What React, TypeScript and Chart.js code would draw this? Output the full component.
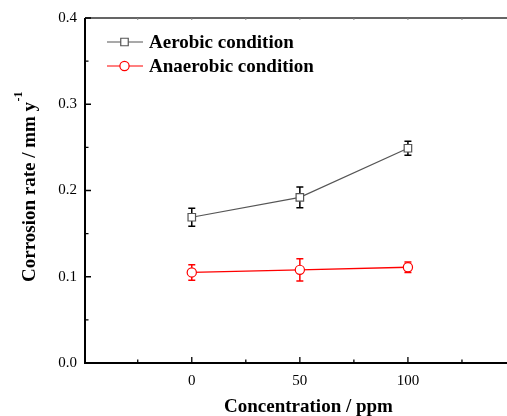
import React, { useEffect, useRef } from "react";
import { Chart, registerables } from "chart.js";
Chart.register(...registerables);

const concentrations = [0, 50, 100];
const aerobicRate = [0.169, 0.192, 0.249];
const aerobicError = [0.0105, 0.012, 0.008];
const anaerobicRate = [0.105, 0.108, 0.111];
const anaerobicError = [0.009, 0.013, 0.006];
const xTickLabels = [0, 50, 100];
const yTickValues = [0, 0.1, 0.2, 0.3, 0.4];
const seriesNames = ["Aerobic condition", "Anaerobic condition"];
const xTitle = "Concentration / ppm";
const yTitleMain = "Corrosion rate / mm y";
const yTitleSup = "-1";

const SERIF = '"Liberation Serif", "Times New Roman", serif';
const GREY = "#555555";
const RED = "#ff0000";

const seriesStyle = [
  { line: GREY, marker: GREY, err: "#000000", shape: "rect" },
  { line: RED, marker: RED, err: RED, shape: "circle" },
];

function drawMarker(ctx: CanvasRenderingContext2D, shape: string, x: number, y: number, color: string) {
  ctx.save();
  ctx.fillStyle = "#ffffff";
  ctx.strokeStyle = color;
  ctx.lineWidth = 1.2;
  ctx.beginPath();
  if (shape === "rect") {
    ctx.rect(x - 3.75, y - 3.75, 7.5, 7.5);
  } else {
    ctx.arc(x, y, 4.6, 0, Math.PI * 2);
  }
  ctx.fill();
  ctx.stroke();
  ctx.restore();
}

const decor = {
  id: "decor",
  beforeDatasetsDraw(chart: any) {
    const ctx = chart.ctx as CanvasRenderingContext2D;
    const xs = chart.scales.x;
    const ys = chart.scales.y;
    chart.data.datasets.forEach((ds: any, i: number) => {
      const errs: number[] = ds.errors;
      ctx.save();
      ctx.strokeStyle = seriesStyle[i].err;
      ctx.lineWidth = 1.5;
      ds.data.forEach((p: any, j: number) => {
        const x = xs.getPixelForValue(p.x);
        const yt = ys.getPixelForValue(p.y + errs[j]);
        const yb = ys.getPixelForValue(p.y - errs[j]);
        ctx.beginPath();
        ctx.moveTo(x, yt);
        ctx.lineTo(x, yb);
        ctx.moveTo(x - 3.5, yt);
        ctx.lineTo(x + 3.5, yt);
        ctx.moveTo(x - 3.5, yb);
        ctx.lineTo(x + 3.5, yb);
        ctx.stroke();
      });
      ctx.restore();
    });
  },
  afterDraw(chart: any) {
    const ctx = chart.ctx as CanvasRenderingContext2D;
    const a = chart.chartArea;
    const xs = chart.scales.x;
    const ys = chart.scales.y;
    ctx.save();
    // frame
    ctx.strokeStyle = "#000";
    ctx.lineWidth = 2;
    ctx.beginPath();
    ctx.moveTo(a.left, a.top);
    ctx.lineTo(a.left, a.bottom);
    ctx.lineTo(a.right, a.bottom);
    ctx.stroke();
    ctx.strokeStyle = "#333";
    ctx.lineWidth = 1.5;
    ctx.beginPath();
    ctx.moveTo(a.left, a.top);
    ctx.lineTo(a.right, a.top);
    ctx.lineTo(a.right, a.bottom);
    ctx.stroke();
    // ticks
    ctx.strokeStyle = "#000";
    ctx.lineWidth = 1.3;
    ctx.beginPath();
    for (let k = 0; k <= 8; k++) {
      const v = k * 0.05;
      const y = ys.getPixelForValue(v);
      const len = k % 2 === 0 ? 6 : 3.5;
      ctx.moveTo(a.left, y);
      ctx.lineTo(a.left + len, y);
      ctx.moveTo(a.right, y);
      ctx.lineTo(a.right - len, y);
    }
    for (let v = -25; v <= 150; v += 25) {
      const x = xs.getPixelForValue(v);
      const len = v % 50 === 0 ? 6 : 3.5;
      ctx.moveTo(x, a.bottom);
      ctx.lineTo(x, a.bottom - len);
    }
    ctx.stroke();
    ctx.strokeStyle = "#888";
    ctx.lineWidth = 1;
    ctx.beginPath();
    for (let v = -25; v <= 150; v += 25) {
      const x = xs.getPixelForValue(v);
      ctx.moveTo(x, a.top);
      ctx.lineTo(x, a.top + 2);
    }
    ctx.stroke();

    // legend
    const rows = [42, 66];
    seriesNames.forEach((name, i) => {
      const y = rows[i];
      ctx.strokeStyle = seriesStyle[i].line;
      ctx.lineWidth = 1.2;
      ctx.beginPath();
      ctx.moveTo(107, y);
      ctx.lineTo(143, y);
      ctx.stroke();
      drawMarker(ctx, seriesStyle[i].shape, 124.5, y, seriesStyle[i].marker);
      ctx.fillStyle = "#000";
      ctx.font = `bold 19px ${SERIF}`;
      ctx.textAlign = "left";
      ctx.textBaseline = "alphabetic";
      ctx.fillText(name, 149, y + 6);
    });

    // x title
    ctx.fillStyle = "#000";
    ctx.font = `bold 19px ${SERIF}`;
    ctx.textAlign = "center";
    ctx.textBaseline = "alphabetic";
    ctx.fillText(xTitle, 308.5, 412);

    // y title with superscript
    ctx.save();
    ctx.translate(35, 282);
    ctx.rotate(-Math.PI / 2);
    ctx.textAlign = "left";
    ctx.font = `bold 19px ${SERIF}`;
    ctx.fillText(yTitleMain, 0, 0);
    const w = ctx.measureText(yTitleMain).width;
    ctx.font = `bold 12px ${SERIF}`;
    ctx.fillText(yTitleSup, w + 0.5, -13);
    ctx.restore();

    ctx.restore();
  },
};

export default function App() {
  const ref = useRef<HTMLCanvasElement>(null);
  useEffect(() => {
    if (!ref.current) return;
    const tickFont = { family: SERIF, size: 15 };
    const chart = new Chart(ref.current, {
      type: "scatter",
      data: {
        datasets: [
          {
            label: seriesNames[0],
            data: concentrations.map((x, i) => ({ x, y: aerobicRate[i] })),
            errors: aerobicError,
            showLine: true,
            borderColor: GREY,
            borderWidth: 1.2,
            pointStyle: "rect",
            pointRadius: 5.3,
            pointBorderWidth: 1.2,
            pointBorderColor: GREY,
            pointBackgroundColor: "#ffffff",
          } as any,
          {
            label: seriesNames[1],
            data: concentrations.map((x, i) => ({ x, y: anaerobicRate[i] })),
            errors: anaerobicError,
            showLine: true,
            borderColor: RED,
            borderWidth: 1.3,
            pointStyle: "circle",
            pointRadius: 4.6,
            pointBorderWidth: 1.2,
            pointBorderColor: RED,
            pointBackgroundColor: "#ffffff",
          } as any,
        ],
      },
      options: {
        animation: false,
        responsive: false,
        maintainAspectRatio: false,
        layout: { padding: { top: 18, right: 14, left: 0, bottom: 0 } },
        plugins: { legend: { display: false }, tooltip: { enabled: false } },
        scales: {
          x: {
            type: "linear",
            min: -49.4,
            max: 150,
            afterFit: (s: any) => {
              s.height = 53;
            },
            afterBuildTicks: (s: any) => {
              s.ticks = xTickLabels.map((v) => ({ value: v }));
            },
            ticks: { font: tickFont, color: "#000", padding: 9, maxRotation: 0, autoSkip: false, callback: (v: any) => String(v) },
            grid: { display: false, drawTicks: false },
            border: { display: false },
          },
          y: {
            min: 0,
            max: 0.4,
            afterFit: (s: any) => {
              s.width = 85;
            },
            afterBuildTicks: (s: any) => {
              s.ticks = yTickValues.map((v) => ({ value: v }));
            },
            ticks: { font: tickFont, color: "#000", padding: 8, autoSkip: false, callback: (v: any) => Number(v).toFixed(1) },
            grid: { display: false, drawTicks: false },
            border: { display: false },
          },
        },
      } as any,
      plugins: [decor],
    });
    return () => chart.destroy();
  }, []);
  return (
    <div style={{ position: "fixed", left: 0, top: 0, width: 507, height: 416, overflow: "hidden", background: "#fff" }}>
      <canvas ref={ref} width={530} height={416} style={{ display: "block" }} />
    </div>
  );
}
